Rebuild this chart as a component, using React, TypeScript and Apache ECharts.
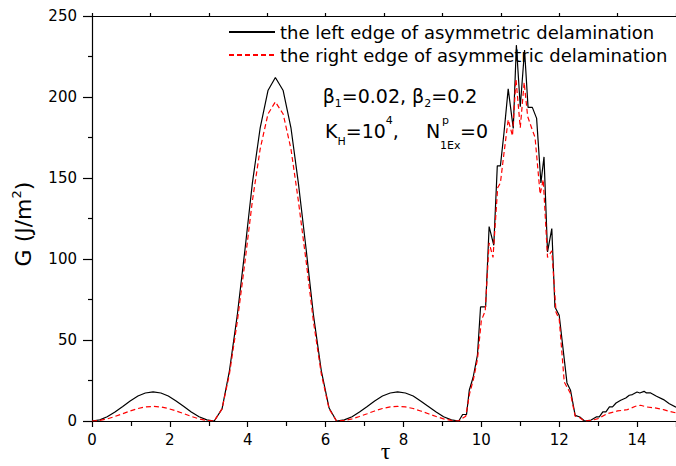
import React, { useEffect, useRef } from 'react';
import * as echarts from 'echarts';

const seriesNames = [
  'the left edge of asymmetric delamination',
  'the right edge of asymmetric delamination',
];

// left edge (black, solid)
const leftTau = [
  0, 0.2, 0.39, 0.59, 0.79, 0.98, 1.18, 1.37, 1.57, 1.77, 1.96, 2.16, 2.36, 2.55, 2.75, 2.95, 3.14,
  3.34, 3.53, 3.73, 3.93, 4.12, 4.32, 4.52, 4.71, 4.91, 5.11, 5.3, 5.5, 5.69, 5.89, 6.09, 6.28,
  6.48, 6.68, 6.87, 7.07, 7.26, 7.46, 7.66, 7.85, 8.05, 8.25, 8.44, 8.64, 8.84, 9.03, 9.23, 9.42,
  9.52, 9.62, 9.69, 9.79, 9.9, 9.98, 10.11, 10.2, 10.32, 10.41,
  10.49, 10.58, 10.69, 10.82, 10.9, 11.0, 11.11, 11.2, 11.31, 11.42,
  11.53, 11.61, 11.7, 11.81, 11.89, 12.0, 12.2, 12.29, 12.41, 12.53,
  12.65, 12.82, 12.95, 13.03, 13.12, 13.2, 13.29, 13.37, 13.46, 13.58,
  13.71, 13.8, 13.88, 14.0, 14.07, 14.18, 14.24, 14.35, 14.5, 14.68,
  14.83, 15.0,
];
const leftG = [
  0, 0.7, 2.6, 5.6, 9.0, 12.4, 15.4, 17.3, 18.0, 17.3, 15.4, 12.4, 9.0, 5.6, 2.6, 0.7, 0,
  7.5, 31, 65, 106, 147, 181, 204, 212, 204, 181, 147, 106, 65, 31, 8, 0,
  0.7, 2.6, 5.6, 9.0, 12.4, 15.4, 17.3, 18.0, 17.3, 15.4, 12.4, 9.0, 5.6, 2.6, 0.7, 0,
  4, 4, 19, 27, 40.6, 70.4, 70.4, 120, 108.5, 157.5,
  157.5, 177.5, 205, 180.6, 232, 194, 229, 193.6, 193.6, 186.8,
  147, 163, 104.4, 118.8, 70.4, 65.3, 23.5, 19, 3.5, 2.5,
  0, 0.6, 2.5, 2.5, 5.6, 5.6, 8.7, 8.7, 11.1, 12.8,
  14.2, 15.9, 16.3, 17.9, 17.3, 18.3, 17.3, 17.3, 15.3, 13.2,
  10.7, 8.5,
];

// right edge (red, dashed)
const rightTau = [
  0, 0.2, 0.39, 0.59, 0.79, 0.98, 1.18, 1.37, 1.57, 1.77, 1.96, 2.16, 2.36, 2.55, 2.75, 2.95, 3.14,
  3.34, 3.53, 3.73, 3.93, 4.12, 4.32, 4.52, 4.71, 4.91, 5.11, 5.3, 5.5, 5.69, 5.89, 6.09, 6.28,
  6.48, 6.68, 6.87, 7.07, 7.26, 7.46, 7.66, 7.85, 8.05, 8.25, 8.44, 8.64, 8.84, 9.03, 9.23, 9.42,
  9.5, 9.6, 9.7, 9.8, 9.9, 10.0, 10.1, 10.2, 10.3, 10.42,
  10.49, 10.58, 10.69, 10.8, 10.89, 11.0, 11.1, 11.19, 11.29, 11.38,
  11.51, 11.59, 11.7, 11.81, 11.92, 12.0, 12.13, 12.29, 12.41, 12.53,
  12.65, 12.82, 13.0, 13.24, 13.5, 13.75, 13.96, 14.09, 14.24, 14.45,
  14.68, 14.83, 15.0,
];
const rightG = [
  0, 0.35, 1.3, 2.8, 4.5, 6.2, 7.7, 8.7, 9.0, 8.7, 7.7, 6.2, 4.5, 2.8, 1.3, 0.35, 0,
  7.5, 29, 61, 98.5, 136, 168, 189.5, 197, 189.5, 168, 136, 98.5, 61, 29, 7.5, 0,
  0.35, 1.3, 2.8, 4.5, 6.2, 7.7, 8.7, 9.0, 8.7, 7.7, 6.2, 4.5, 2.8, 1.3, 0.35, 0,
  1.5, 3, 17, 26, 38, 62, 68, 110, 101, 144,
  147, 165, 186, 176, 211, 181, 209, 188, 181, 175,
  140, 149, 101, 105, 67, 63, 24, 17, 3, 2,
  0, 0.3, 1.5, 4.6, 6.2, 7, 9.1, 9.7, 8.7, 8.1,
  7, 6, 5,
];

const FONT = 'DejaVu Sans';

export default function App() {
  const ref = useRef<HTMLDivElement>(null);
  useEffect(() => {
    if (!ref.current) return;
    const chart = echarts.init(ref.current, undefined, { renderer: 'svg' });
    const axisLineStyle = { color: '#000', width: 1.2 };
    const richMain = (lh: number) => ({
      m: { fontSize: 19, fontFamily: FONT, lineHeight: lh, verticalAlign: 'middle', fill: '#000' },
      s: { fontSize: 11, fontFamily: FONT, lineHeight: 11, verticalAlign: 'bottom', fill: '#000' },
      p: { fontSize: 11, fontFamily: FONT, lineHeight: 11, verticalAlign: 'top', fill: '#000' },
    });
    const plain = (text: string, x: number, y: number, size: number) => ({
      type: 'text',
      x,
      y,
      style: { text, fontSize: size, fontFamily: FONT, align: 'left', verticalAlign: 'middle', fill: '#000' },
    });
    chart.setOption({
      animation: false,
      backgroundColor: '#fff',
      grid: { left: 92, top: 16, width: 590, height: 405 },
      legend: {
        left: 228,
        top: 23,
        padding: 0,
        orient: 'vertical',
        itemWidth: 46,
        itemHeight: 14,
        itemGap: 5,
        data: seriesNames,
        itemStyle: { color: 'transparent', borderWidth: 0, opacity: 0 },
        textStyle: { fontFamily: FONT, fontSize: 18, color: '#000', lineHeight: 18 },
      },
      xAxis: [
        {
          type: 'value',
          position: 'bottom',
          min: 0,
          max: 15,
          interval: 2,
          axisLine: { show: true, onZero: false, lineStyle: axisLineStyle },
          axisTick: { show: true, inside: false, length: 6, lineStyle: axisLineStyle },
          minorTick: { show: true, splitNumber: 2, length: 5, lineStyle: axisLineStyle },
          axisLabel: { show: true, showMaxLabel: false, margin: 11, color: '#000', fontSize: 15, fontFamily: FONT },
          splitLine: { show: false },
          minorSplitLine: { show: false },
        },
        {
          type: 'value',
          position: 'top',
          min: 0,
          max: 15,
          interval: 1.5,
          axisLine: { show: true, onZero: false, lineStyle: axisLineStyle },
          axisTick: { show: true, inside: false, length: 3, lineStyle: axisLineStyle },
          axisLabel: { show: false },
          splitLine: { show: false },
        },
      ],
      yAxis: {
        type: 'value',
        min: 0,
        max: 250,
        interval: 50,
        axisLine: { show: true, onZero: false, lineStyle: axisLineStyle },
        axisTick: { show: true, inside: false, length: 9, lineStyle: axisLineStyle },
        minorTick: { show: true, splitNumber: 2, length: 4, lineStyle: axisLineStyle },
        axisLabel: { margin: 15, color: '#000', fontSize: 15, fontFamily: FONT },
        splitLine: { show: false },
        minorSplitLine: { show: false },
      },
      series: [
        {
          type: 'line',
          name: seriesNames[0],
          xAxisIndex: 0,
          data: leftTau.map((t, i) => [t, leftG[i]]),
          symbol: 'none',
          lineStyle: { color: '#000', width: 1.2 },
          itemStyle: { color: '#000' },
        },
        {
          type: 'line',
          name: seriesNames[1],
          xAxisIndex: 0,
          data: rightTau.map((t, i) => [t, rightG[i]]),
          symbol: 'none',
          lineStyle: { color: '#ff0000', width: 1.2, type: [5, 3] },
          itemStyle: { color: '#ff0000' },
        },
      ],
      graphic: [
        {
          type: 'text',
          x: 23,
          y: 224,
          rotation: Math.PI / 2,
          style: {
            text: '{a|G (J/m}{b|2}{a|)}',
            align: 'center',
            verticalAlign: 'middle',
            rich: {
              a: { fontSize: 22, fontFamily: FONT, lineHeight: 26, verticalAlign: 'middle', fill: '#000' },
              b: { fontSize: 13, fontFamily: FONT, lineHeight: 13, verticalAlign: 'top', fill: '#000' },
            },
          },
        },
        {
          type: 'text',
          x: 385.5,
          y: 451,
          style: {
            text: 'τ',
            fontSize: 24,
            fontFamily: 'Liberation Serif',
            align: 'center',
            verticalAlign: 'middle',
            fill: '#000',
          },
        },
        {
          type: 'text',
          x: 322.7,
          y: 95.5,
          style: {
            text: '{m|β}{s|1}{m|=0.02, β}{s|2}{m|=0.2}',
            align: 'left',
            verticalAlign: 'middle',
            rich: richMain(26),
          },
        },
        {
          type: 'text',
          x: 325,
          y: 131,
          style: {
            text: '{m|K}{s|H}{m|=10}{p|4}{m|,}',
            align: 'left',
            verticalAlign: 'middle',
            rich: richMain(32),
          },
        },
        plain('N', 426, 131, 19),
        plain('p', 442, 120, 11),
        plain('1Ex', 440, 145, 11),
        plain('=0', 460, 131, 19),
      ],
    });
    return () => chart.dispose();
  }, []);
  return (
    <div
      ref={ref}
      style={{ position: 'absolute', left: 0, top: 0, width: 676, height: 466 }}
    />
  );
}
